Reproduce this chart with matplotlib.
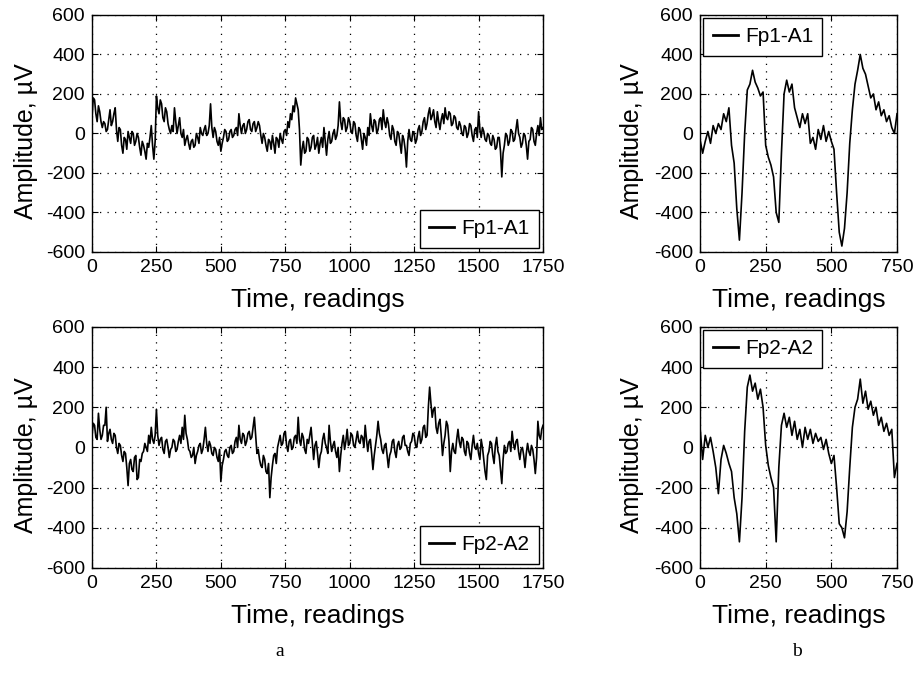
import numpy as np
import matplotlib.pyplot as plt

# EEG traces
# left panels: one value every 5 readings, right panels: every 10
step_a = 5
step_b = 10

fp1_a = [80, 180, 170, 100, 60, 140, 110, 60, 30, 60,
         50, 10, 20, 70, 120, 40, 60, 100, 130, 20,
         -40, 30, 20, -60, -100, -20, -30, -80, 10, -20,
         -50, 10, 0, -60, -40, 0, -20, -70, -110, -40,
         -60, -90, -130, -50, -70, -20, 40, -60, -130, -40,
         190, 130, 100, 170, 150, 80, 60, 130, 110, 50,
         20, 0, 40, 10, 130, 60, 0, 40, 80, 0,
         -20, 20, -60, -30, -10, -50, -80, -40, -30, -70,
         -60, 0, -20, -50, 30, 0, -10, 20, 40, -10,
         0, 40, 150, 30, -20, 30, 10, -40, -60, -20,
         -90, -50, -20, 20, 10, -40, -30, 10, 20, -20,
         -10, 20, 30, -10, 100, 40, 0, 40, 50, 0,
         20, 60, 70, 20, 10, 50, 60, 10, 30, 60,
         40, -10, -50, 0, -20, -60, -90, -30, -40, -80,
         -10, -50, -100, -20, -30, -70, 0, -30, -50, 10,
         20, -10, 60, 30, 100, 70, 140, 110, 180, 150,
         120, 20, -160, -80, -40, -100, -90, -20, -30, -90,
         -70, -20, -10, -80, -60, -20, -100, -50, -20, -70,
         30, -40, -110, -30, 10, -50, -40, 0, 20, -30,
         -10, 40, 160, 60, 20, 80, 70, 10, 30, 80,
         60, 10, 0, 60, 50, -10, -40, 30, 20, -30,
         -80, 0, -20, -60, 30, -10, 100, 40, 10, 70,
         60, 0, 20, 70, 80, 20, 120, 60, 30, 80,
         50, -10, -30, 40, 20, -40, -60, 10, 0, -50,
         -100, -10, -30, -80, -170, -40, 20, -30, -40, 10,
         0, -50, -30, 20, 40, -10, 10, 60, 80, 20,
         50, 100, 130, 70, 90, 120, 60, 30, 110, 60,
         20, 70, 100, 50, 130, 80, 70, 110, 100, 40,
         50, 90, 80, 30, 20, 60, 40, 0, -10, 40,
         30, -20, 0, 50, 40, -10, -40, 20, 30, -20,
         110, 20, -20, 30, 10, -30, -40, 0, -10, -50,
         -60, -10, -30, -80, -70, -20, -20, -90, -220, -100,
         -60, 0, -10, -60, -40, 20, 10, -40, -30, 20,
         70, 0, -20, -70, -50, 0, -10, -60, -130, -40,
         -30, 30, 20, -40, -60, 0, 40, -10, 80, 20,
         30]

fp2_a = [60, 120, 110, 50, 40, 170, 90, 40, 60, 110,
         110, 200, 30, 70, 90, 40, 20, 70, 60, 0,
         -30, 20, 10, -40, -70, -20, -30, -100, -190, -80,
         -60, -110, -120, -50, -40, -160, -150, -60, -70, -30,
         -20, 20, 0, -20, 60, 20, 100, 40, 20, 60,
         190, 60, 10, 40, 50, -10, -30, 30, 40, 0,
         -50, -10, 0, 40, 30, -20, -10, 30, 60, 20,
         100, 40, 160, 70, 40, -10, -20, -50, -40, 0,
         -80, -40, -20, 10, 20, -30, -10, 40, 100, 20,
         -20, 30, 10, -30, -40, 0, -10, -50, -70, -10,
         -170, -90, -60, -20, -10, -40, -50, 0, 10, -30,
         -20, 30, 50, 0, 110, 40, 20, 70, 60, 10,
         30, 70, 80, 40, 50, 100, 150, 60, -30, -10,
         -60, -90, -100, -40, -60, -120, -130, -80, -250, -150,
         -90, -40, -30, -80, 0, 30, 60, 10, 20, 70,
         80, 10, -20, 30, 40, -10, 0, 50, 60, 20,
         150, 40, 10, 70, 50, -10, -30, 40, 20, 60,
         100, 20, -60, 10, 30, -30, -100, -40, -20, 40,
         70, 20, 0, -30, 110, 30, -20, 10, 30, -20,
         -50, 0, -120, -40, 20, 60, -10, 30, 90, 10,
         20, 70, 60, 10, 0, 40, 80, 30, 20, 60,
         50, 0, 110, 40, -20, 30, 40, -30, -110, -40,
         10, 60, 130, 70, 40, -10, -30, 10, 20, -40,
         -100, -40, -20, 30, 40, -20, -50, 10, 30, -10,
         0, 50, 60, 10, 10, -20, -40, 20, 30, 70,
         60, 10, 0, 50, 80, 20, 40, 100, 110, 50,
         60, 200, 300, 220, 150, 190, 200, 100, 70, 120,
         140, 60, -40, 20, 60, 130, 110, 30, -120, -20,
         20, -20, -30, 40, 90, 30, 0, 50, 40, -20,
         -40, 30, 20, -30, -60, 10, 60, 0, -10, 20,
         -30, -60, 40, 0, -60, -120, -160, -40, -20, 30,
         20, -40, -80, 10, 50, -20, -40, -110, -180, -60,
         10, -30, -20, 20, 30, -20, 80, 20, -10, 30,
         40, -20, -60, -10, 0, -40, -100, -30, 20, -20,
         -40, 10, -10, -60, -130, -50, 130, 60, 40, 90,
         110]

fp1_b = [-30, -100, -40, 10, -50, 40, 0, 50, 20, 100,
         60, 130, -60, -150, -380, -540, -300, 0, 220, 250,
         320, 260, 230, 190, 210, -60, -120, -160, -220, -400,
         -450, -100, 200, 270, 210, 250, 130, 80, 30, 100,
         50, 100, -50, -20, -80, 20, -30, 40, -40, 10,
         -40, -80, -300, -500, -570, -480, -300, -50, 120, 250,
         320, 400, 330, 300, 240, 180, 200, 120, 160, 90,
         120, 60, 90, 30, 0, 100]

fp2_b = [100, -60, 60, 0, 50, -20, -100, -230, -60, 10,
         -30, -80, -120, -250, -330, -470, -250, 80, 300, 360,
         280, 320, 240, 290, 200, 10, -90, -150, -200, -470,
         -100, 110, 170, 100, 150, 60, 130, 40, 90, 0,
         100, 40, 90, 20, 70, 30, 50, -10, 40, -30,
         -80, -40, -200, -380, -400, -450, -320, -100, 100, 200,
         240, 340, 220, 280, 190, 230, 160, 200, 110, 150,
         80, 120, 60, 90, -150, -80]

panels = [
    # (position, data, step, xmax, legend label, legend loc)
    ([0.1001, 0.630, 0.4908, 0.348], fp1_a, step_a, 1750, 'Fp1-A1', 'lower right'),
    ([0.1001, 0.166, 0.4908, 0.354], fp2_a, step_a, 1750, 'Fp2-A2', 'lower right'),
    ([0.7617, 0.630, 0.2144, 0.348], fp1_b, step_b, 750, 'Fp1-A1', 'upper left'),
    ([0.7617, 0.166, 0.2144, 0.354], fp2_b, step_b, 750, 'Fp2-A2', 'upper left'),
]

plt.rcParams['font.family'] = ['Liberation Sans', 'DejaVu Sans']
plt.rcParams['axes.unicode_minus'] = False

fig = plt.figure(figsize=(9.19, 6.81), dpi=100)

for pos, y, step, xmax, name, loc in panels:
    ax = fig.add_axes(pos)
    x = np.arange(len(y)) * step
    ax.plot(x, y, color='black', lw=1.2, label=name)
    ax.set_xlim(0, xmax)
    ax.set_ylim(-600, 600)
    ax.set_xticks(np.arange(0, xmax + 1, 250))
    ax.set_yticks(np.arange(-600, 601, 200))
    ax.grid(True, color='black', linestyle=(0, (1, 5)), linewidth=0.9)
    ax.tick_params(direction='in', top=True, right=True, length=4,
                   labelsize=14, pad=5)
    for s in ax.spines.values():
        s.set_linewidth(1.0)
    ax.set_xlabel('Time, readings', fontsize=19)
    ax.set_ylabel('Amplitude, µV', fontsize=18)
    if xmax == 1750:
        ax.yaxis.set_label_coords(-0.12, 0.466)
        pad = 0.2
    else:
        ax.yaxis.set_label_coords(-0.284, 0.466)
        pad = 0.15
    leg = ax.legend(loc=loc, fontsize=15, handlelength=1.2,
                    handletextpad=0.35, borderaxespad=pad,
                    borderpad=0.45, fancybox=False, framealpha=1)
    ax.xaxis.set_label_coords(0.5, -0.15)
    leg.get_frame().set_edgecolor('black')
    leg.get_frame().set_linewidth(1.0)
    leg.get_lines()[0].set_linewidth(2.0)

fig.text(280 / 919, 1 - 652 / 681, 'a', ha='center', va='center',
         fontsize=14, family='Liberation Serif')
fig.text(797 / 919, 1 - 652 / 681, 'b', ha='center', va='center',
         fontsize=14, family='Liberation Serif')

fig.savefig('out.png', dpi=100)
